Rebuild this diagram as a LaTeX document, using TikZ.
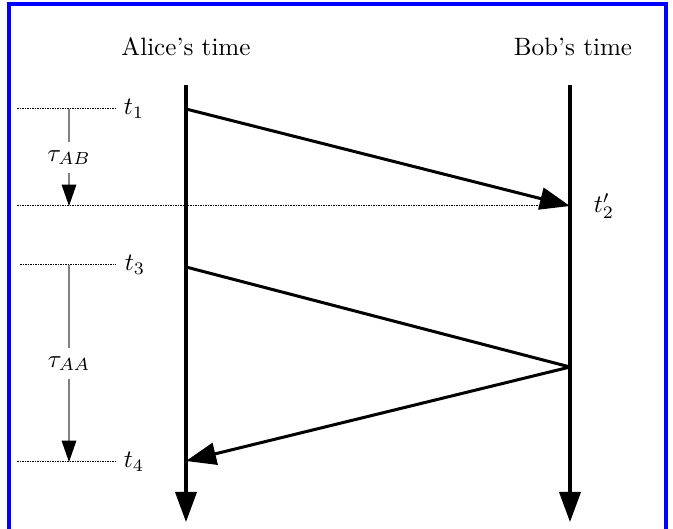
\documentclass[tikz,border=0pt]{standalone}
\usepackage{tikz}
\usepackage{amsmath}
\usetikzlibrary{arrows.meta}
\usetikzlibrary{positioning}
\definecolor{colorFrame}{HTML}{0000FF}
\definecolor{colorDelay}{HTML}{808080}
\def\colorFrame{colorFrame}
\def\colorDelay{colorDelay}

\begin{document}
\begin{tikzpicture}[x=0.01401cm, y=-0.01401cm,
    worldline/.style={line width=1.2pt, -{Triangle[length=12pt,width=8.5pt]}},
    pulse/.style={line width=1.2pt},
    tick/.style={dash pattern=on 0.6pt off 0.4pt, line width=0.4pt},
    delay/.style={\colorDelay, line width=0.5pt, -{Triangle[length=8.5pt,width=5.8pt,black]}}
    ]

    \useasboundingbox (0,0) rectangle (673,529);

    % Cadre bleu
    \draw[\colorFrame, line width=1.2pt] (9,529) -- (9,4) -- (666,4) -- (666,529);

    % Points des evenements
    \coordinate (a0) at (186,85);
    \coordinate (a1) at (186,109);
    \coordinate (a3) at (186,267);
    \coordinate (a4) at (186,461);
    \coordinate (a9) at (186,522);
    \coordinate (b0) at (570,85);
    \coordinate (b2) at (570,206);
    \coordinate (b3) at (570,367);
    \coordinate (b9) at (570,522);

    % Titres
    \node (alice) at (186,47) {Alice's time};
    \node (bob) at (573,47) {Bob's time};

    % Lignes pointillees + etiquettes
    \coordinate (l1) at (17,109);
    \coordinate (r1) at (115,109);
    \coordinate (l2) at (17,206);
    \coordinate (l3) at (20,265);
    \coordinate (r3) at (116,265);
    \coordinate (l4) at (17,462);
    \coordinate (r4) at (115,462);

    \draw[tick] (l1) -- (r1) node[right] (t1) {$t_1$};
    \draw[tick] (l2) -- (b2);
    \draw[tick] (l3) -- (r3) node[right] (t3) {$t_3$};
    \draw[tick] (l4) -- (r4) node[right] (t4) {$t_4$};

    % Delais
    \coordinate (d1) at (69,109);
    \coordinate (d2) at (69,206);
    \coordinate (d3) at (69,265);
    \coordinate (d4) at (69,462);
    \draw[delay] (d1) -- (d2) node[midway, fill=white, text=black] (tauAB) {$\tau_{AB}$};
    \draw[delay] (d3) -- (d4) node[midway, fill=white, text=black] (tauAA) {$\tau_{AA}$};

    % Lignes de temps
    \draw[worldline] (a0) -- (a9);
    \draw[worldline] (b0) -- (b9);

    % Signaux
    \draw[pulse, -{Triangle[length=12pt,width=8.8pt]}] (a1) -- (b2);
    \draw[pulse] (a3) -- (b3);
    \draw[pulse, -{Triangle[length=12pt,width=8.8pt]}] (b3) -- (a4);

    \node[right, xshift=6pt] (t2) at (b2) {$t_2'$};

\end{tikzpicture}
\end{document}
